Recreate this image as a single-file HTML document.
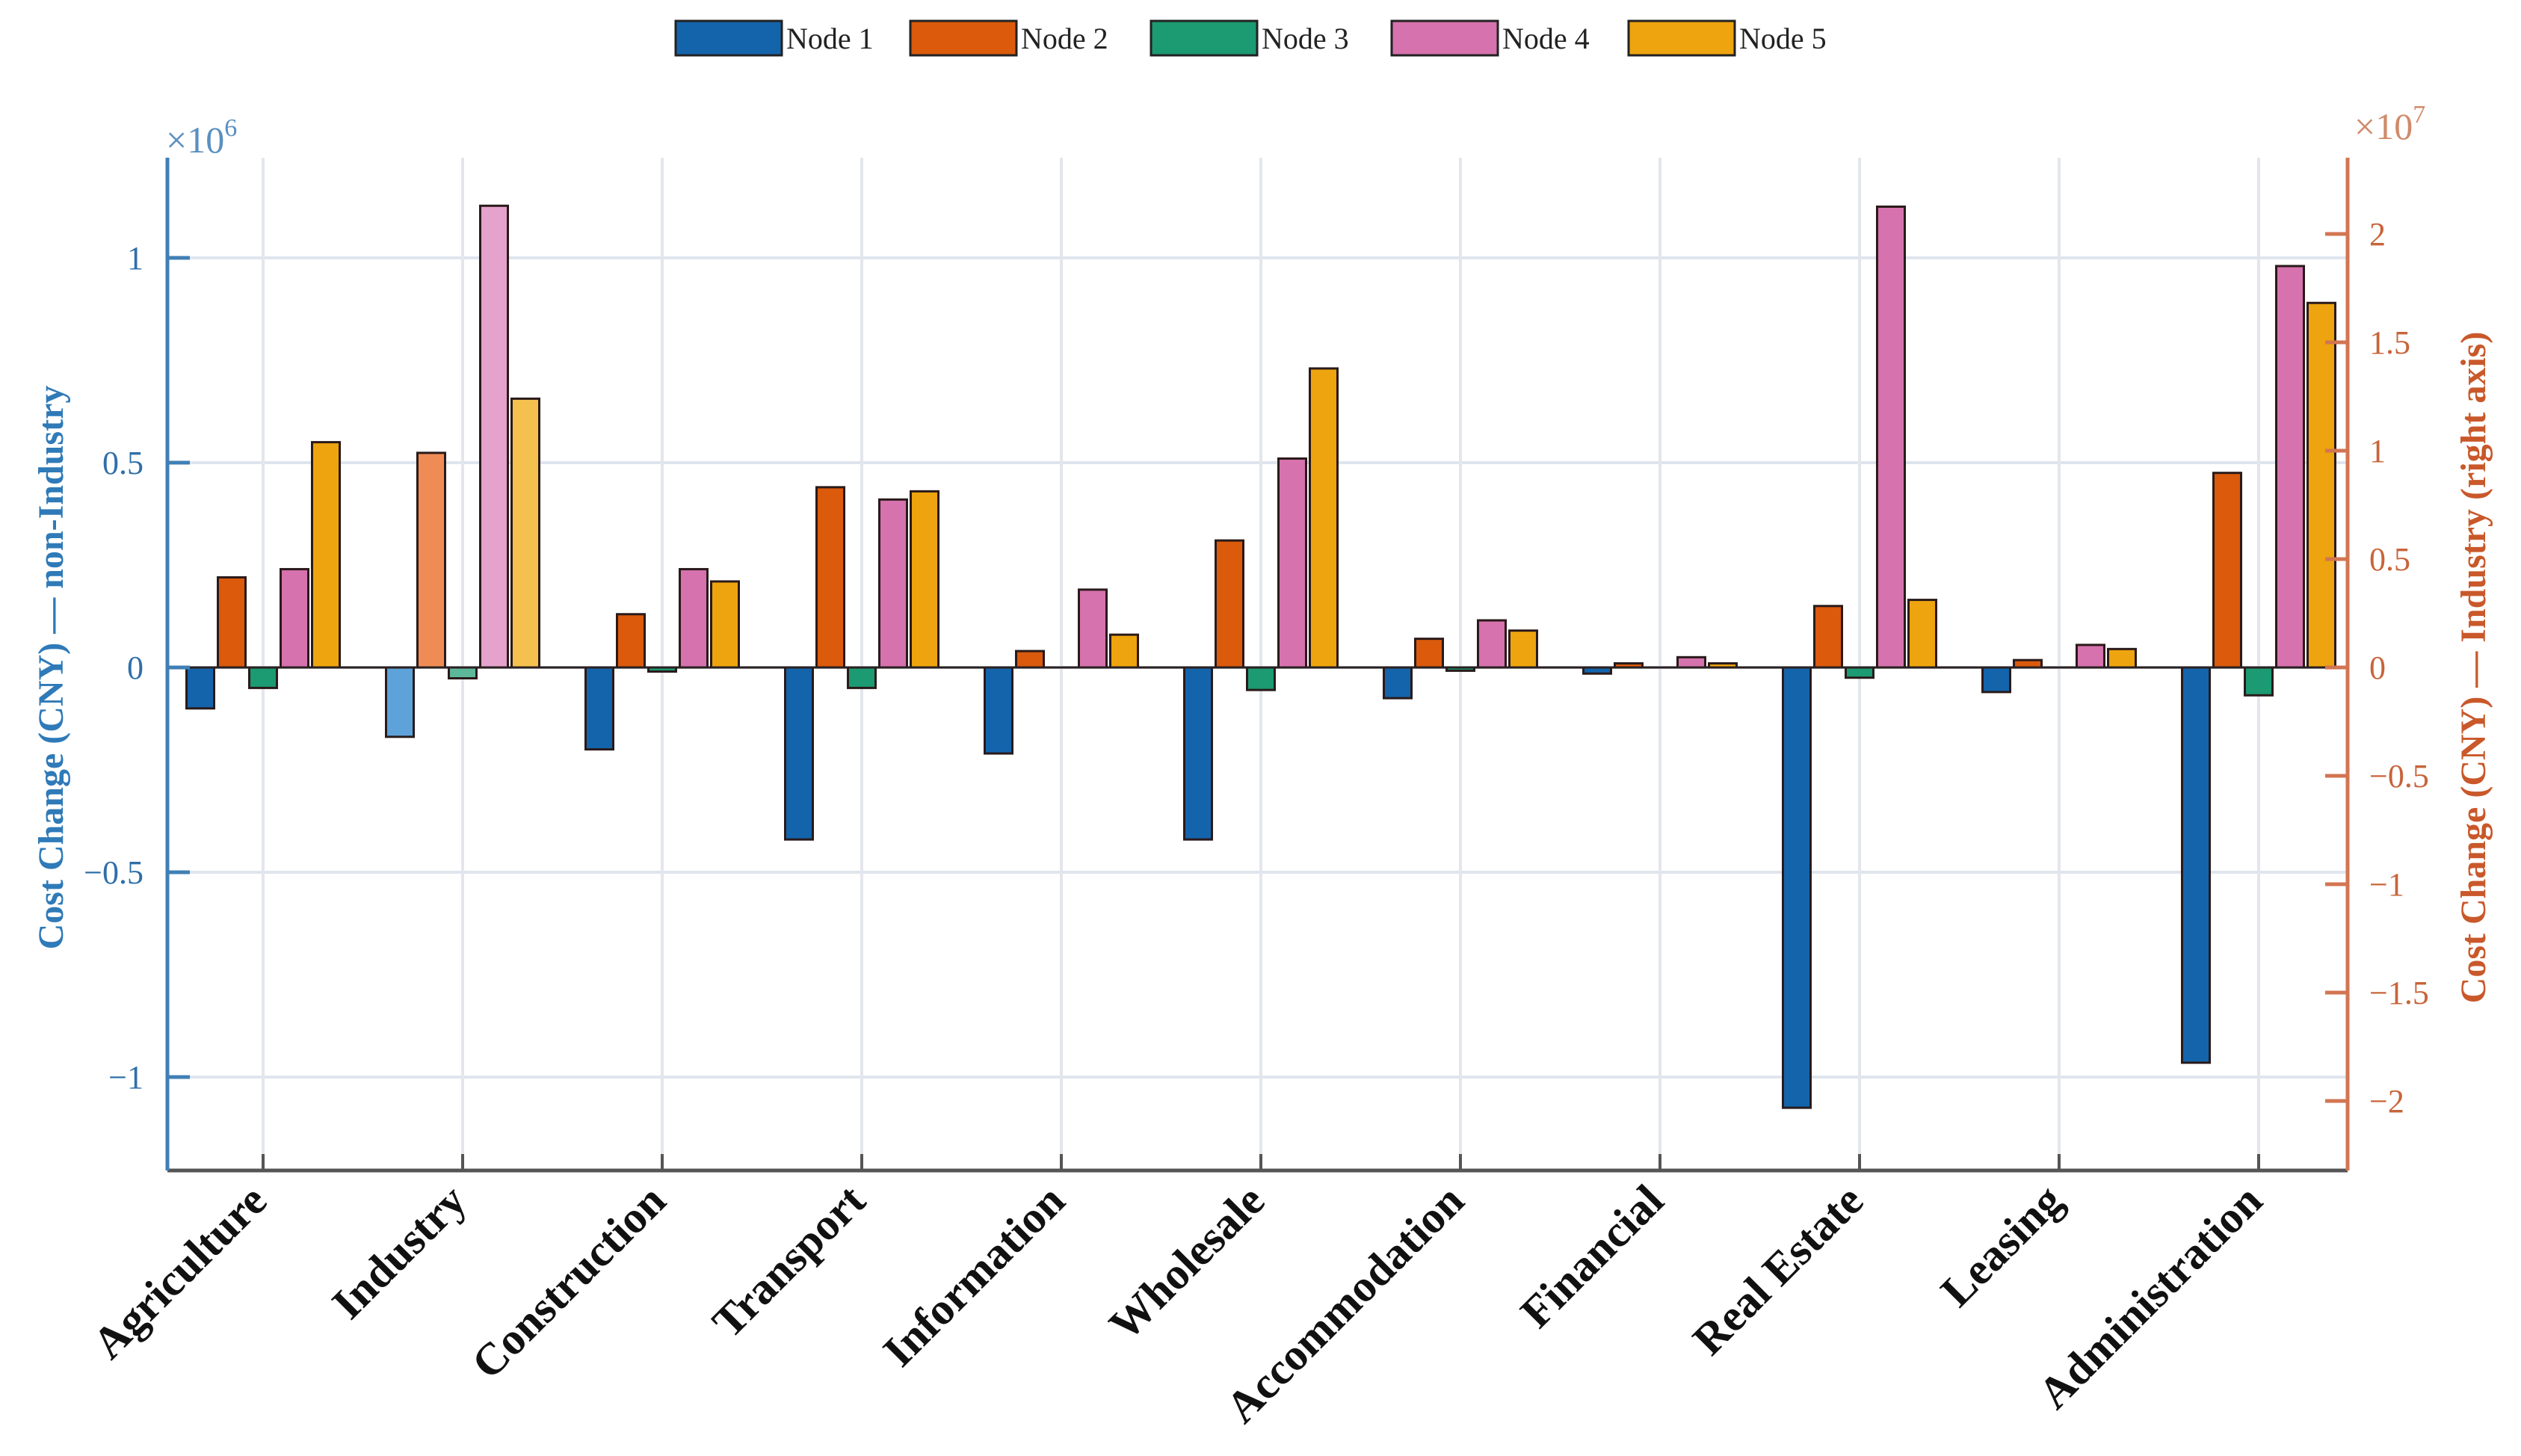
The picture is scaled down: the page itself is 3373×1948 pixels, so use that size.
<!DOCTYPE html>
<html><head><meta charset="utf-8"><style>
html,body{margin:0;padding:0;background:#fff;}
svg{display:block;font-family:"Liberation Serif",serif;}
</style></head><body>
<svg id="chart" width="3373" height="1948" viewBox="0 0 3373 1948" xmlns="http://www.w3.org/2000/svg">
<g id="grid"></g>
<g id="bars"></g>
<g id="axes"></g>
<g id="legend"></g>
</svg>
<script>
const categories = ["Agriculture","Industry","Construction","Transport","Information","Wholesale","Accommodation","Financial","Real Estate","Leasing","Administration"];
const seriesNames = ["Node 1","Node 2","Node 3","Node 4","Node 5"];
// values in CNY; Industry plotted on right axis
const node1 = [-0.10e6,-0.32e7,-0.20e6,-0.42e6,-0.21e6,-0.42e6,-0.075e6,-0.015e6,-1.075e6,-0.06e6,-0.965e6];
const node2 = [0.22e6,0.99e7,0.13e6,0.44e6,0.04e6,0.31e6,0.07e6,0.01e6,0.15e6,0.018e6,0.475e6];
const node3 = [-0.05e6,-0.05e7,-0.01e6,-0.05e6,0,-0.055e6,-0.008e6,0,-0.025e6,0,-0.068e6];
const node4 = [0.24e6,2.13e7,0.24e6,0.41e6,0.19e6,0.51e6,0.115e6,0.025e6,1.125e6,0.055e6,0.98e6];
const node5 = [0.55e6,1.24e7,0.21e6,0.43e6,0.08e6,0.73e6,0.09e6,0.01e6,0.165e6,0.045e6,0.89e6];
const rightAxisCategory = ["Industry"];
const leftTicks = [-1,-0.5,0,0.5,1];
const leftTickLabels = ["\u22121","\u22120.5","0","0.5","1"];
const rightTicks = [-2,-1.5,-1,-0.5,0,0.5,1,1.5,2];
const rightTickLabels = ["\u22122","\u22121.5","\u22121","\u22120.5","0","0.5","1","1.5","2"];

const NS="http://www.w3.org/2000/svg";
function mk(tag,attrs,parent){const e=document.createElementNS(NS,tag);for(const k in attrs)e.setAttribute(k,attrs[k]);parent.appendChild(e);return e;}
const X0=224,X1=3141,Y0=211,Y1=1566,ZERO=893;
const leftPerUnit=548;   // px per 1e6
const rightPerUnit=290;  // px per 1e7
function yL(v){return ZERO - v/1e6*leftPerUnit;}
function yR(v){return ZERO - v/1e7*rightPerUnit;}
function xC(i){return 352 + i*267;}
const colors=["#1464ac","#db5a0c","#1c9a72","#d672ad","#eea40e"];
const light=["#5da3da","#ef8c55","#5db89a","#e4a2cc","#f5c14e"];
const series=[node1,node2,node3,node4,node5];
const grid=document.getElementById('grid'),bars=document.getElementById('bars'),axes=document.getElementById('axes'),legend=document.getElementById('legend');

leftTicks.forEach(t=>{const l=mk('line',{x1:X0,x2:X1,y1:yL(t*1e6),y2:yL(t*1e6),stroke:'#dfe5ee','stroke-width':4},grid);

});
categories.forEach((c,i)=>{const l=mk('line',{x1:xC(i),x2:xC(i),y1:Y0,y2:Y1,stroke:'#e3e6ec','stroke-width':4},grid);

});

const BW=37,SP=42;
categories.forEach((c,i)=>{
  const isR=rightAxisCategory.includes(c);
  series.forEach((s,j)=>{
    const v=s[i]; if(!v) return;
    const y=isR?yR(v):yL(v);
    const top=Math.min(y,ZERO),h=Math.abs(y-ZERO);
    const r=mk('rect',{x:xC(i)+(j-2)*SP-BW/2,y:top,width:BW,height:h,fill:isR?light[j]:colors[j],stroke:'#2a1a1a','stroke-width':3},bars);
    
    
  });
});
const z=mk('line',{x1:X0,x2:X1,y1:ZERO,y2:ZERO,stroke:'#2a2020','stroke-width':3},axes);


const bx=mk('line',{x1:X0,x2:X1,y1:Y1,y2:Y1,stroke:'#555','stroke-width':5},axes);


categories.forEach((c,i)=>{
  const t=mk('line',{x1:xC(i),x2:xC(i),y1:Y1,y2:Y1-22,stroke:'#555','stroke-width':4},axes);
  
  
  const ax=xC(i)+8, ay=Y1+44;
  const tx=mk('text',{x:ax,y:ay,'text-anchor':'end','font-size':60,'font-weight':'bold',fill:'#111',transform:`rotate(-45 ${ax} ${ay})`},axes);
  tx.textContent=c;
  
  
});
const la=mk('line',{x1:X0,x2:X0,y1:Y0,y2:Y1,stroke:'#3f7fb5','stroke-width':5},axes);


leftTicks.forEach((t,k)=>{
  const y=yL(t*1e6);
  const tk=mk('line',{x1:X0,x2:X0+30,y1:y,y2:y,stroke:'#3f7fb5','stroke-width':5},axes);
  
  
  const tl=mk('text',{x:192,y:y+15,'text-anchor':'end','font-size':44,fill:'#2f6fa8'},axes);
  tl.textContent=leftTickLabels[k];
  
  
});
const ra=mk('line',{x1:X1,x2:X1,y1:Y0,y2:Y1,stroke:'#d27552','stroke-width':5},axes);


rightTicks.forEach((t,k)=>{
  const y=yR(t*1e7);
  const tk=mk('line',{x1:X1-30,x2:X1,y1:y,y2:y,stroke:'#d27552','stroke-width':5},axes);
  
  
  const tl=mk('text',{x:3170,y:y+15,'text-anchor':'start','font-size':44,fill:'#c8643a'},axes);
  tl.textContent=rightTickLabels[k];
  
  
});
const lx=[904,1218,1540,1862,2179];
seriesNames.forEach((n,j)=>{
  const r=mk('rect',{x:lx[j],y:28,width:142,height:46,fill:colors[j],stroke:'#222','stroke-width':3},legend);
  
  
  const t=mk('text',{x:lx[j]+148,y:65,'font-size':40,fill:'#222'},legend);
  t.textContent=n;
  
  
});
</script>
<svg style="position:absolute;left:0;top:0" width="3373" height="1948" xmlns="http://www.w3.org/2000/svg">
<text x="222" y="204" font-family="Liberation Serif,serif" font-size="50" fill="#5a8fc0">×10<tspan dy="-22" font-size="34">6</tspan></text>
<text x="3150" y="186" font-family="Liberation Serif,serif" font-size="50" fill="#d08a6a">×10<tspan dy="-22" font-size="34">7</tspan></text>
<text transform="translate(84 893) rotate(-90)" text-anchor="middle" font-family="Liberation Serif,serif" font-size="48" font-weight="bold" fill="#2f7ab8">Cost Change (CNY) — non-Industry</text>
<text transform="translate(3325 893) rotate(-90)" text-anchor="middle" font-family="Liberation Serif,serif" font-size="48" font-weight="bold" fill="#c9582a">Cost Change (CNY) — Industry (right axis)</text>
</svg>
</body></html>
